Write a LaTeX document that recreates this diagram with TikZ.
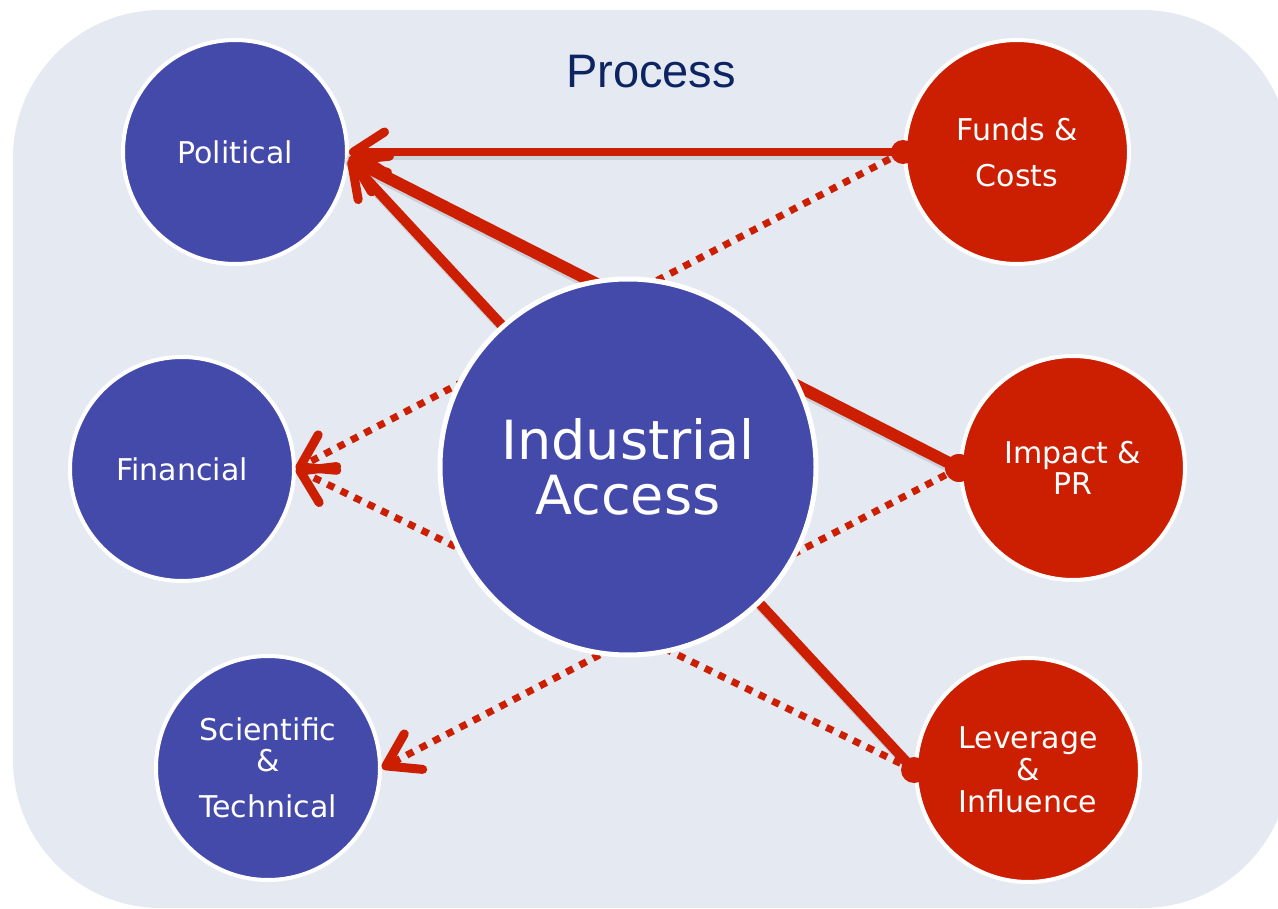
\documentclass[tikz,border=0pt]{standalone}
\usepackage{fontspec}
\setmainfont{DejaVu Sans}
\newfontfamily\procfont{Liberation Sans}
\usetikzlibrary{arrows.meta}
\definecolor{bgc}{RGB}{228,233,242}
\definecolor{bluec}{RGB}{68,74,170}
\definecolor{redc}{RGB}{204,30,0}
\definecolor{navyc}{RGB}{12,36,98}
\begin{document}
\begin{tikzpicture}[x=1pt,y=-1pt,
  basecirc/.style={circle, draw=white, line width=4pt, minimum size=224pt, inner sep=0pt,
    text=white, font=\fontsize{30}{34}\selectfont, align=center},
  bluecirc/.style={basecirc, fill=bluec},
  redcirc/.style={basecirc, fill=redc},
  titletext/.style={text=navyc, font=\procfont\fontsize{47}{50}\selectfont},
  tipbarb/.style={-{Straight Barb[length=31pt,width=40pt,line width=9pt,round]}},
  solidlink/.style={draw=redc, line cap=round, tipbarb},
  dotlink/.style={draw=redc, line width=7pt, dash pattern=on 7.5pt off 7.5pt, tipbarb},
  linkshadow/.style={draw=black, draw opacity=0.10, line cap=round, transform canvas={shift={(2pt,-4pt)}}},
  linkdot/.style={fill=redc}
]
\useasboundingbox (0,0) rectangle (1278,909);
\clip (0,0) rectangle (1278,909);
\fill[bgc, rounded corners=148pt] (13,10) rectangle (1290,908);

\node[titletext] (title) at (651,72) {Process};

% outer circles
\node[bluecirc] (pol) at (235,152) {Political};
\node[bluecirc] (fin) at (182,469) {Financial};
\node[bluecirc] (sci) at (268,768) {Scientific\\[-3pt] \&\\[12pt] Technical};
\node[redcirc] (fun) at (1017,152) {Funds \&\\[12pt] Costs};
\node[redcirc] (imp) at (1073,468) {Impact \&\\[-3pt] PR};
\node[redcirc] (lev) at (1028,770) {Leverage\\[-2pt] \&\\[-2pt] Influence};

% connector shadows
\draw[linkshadow, line width=8pt] (fun.west) -- (pol.east);
\draw[linkshadow, line width=10pt] (lev.west) -- (pol.-4);
\draw[linkshadow, line width=12pt] (imp.west) -- (pol.-3);

% connectors
\draw[dotlink] (fun.west) -- (fin.east);
\draw[dotlink] (lev.west) -- (fin.east);
\draw[dotlink] (imp.west) -- (sci.east);
\draw[solidlink, line width=8pt] (fun.west) -- (pol.east);
\draw[solidlink, line width=10pt] (lev.west) -- (pol.-4);
\draw[solidlink, line width=12pt] (imp.west) -- (pol.-3);
\fill[linkdot] (fun.west) circle (12pt);
\fill[linkdot] (imp.west) circle (14pt);
\fill[linkdot] (lev.west) circle (13pt);

% center
\node[circle, fill=bluec, draw=white, line width=5pt, minimum size=376pt, inner sep=0pt,
  text=white, font=\fontsize{54}{55}\selectfont, align=center] (ind) at (628,467) {Industrial\\ Access};
\end{tikzpicture}
\end{document}
